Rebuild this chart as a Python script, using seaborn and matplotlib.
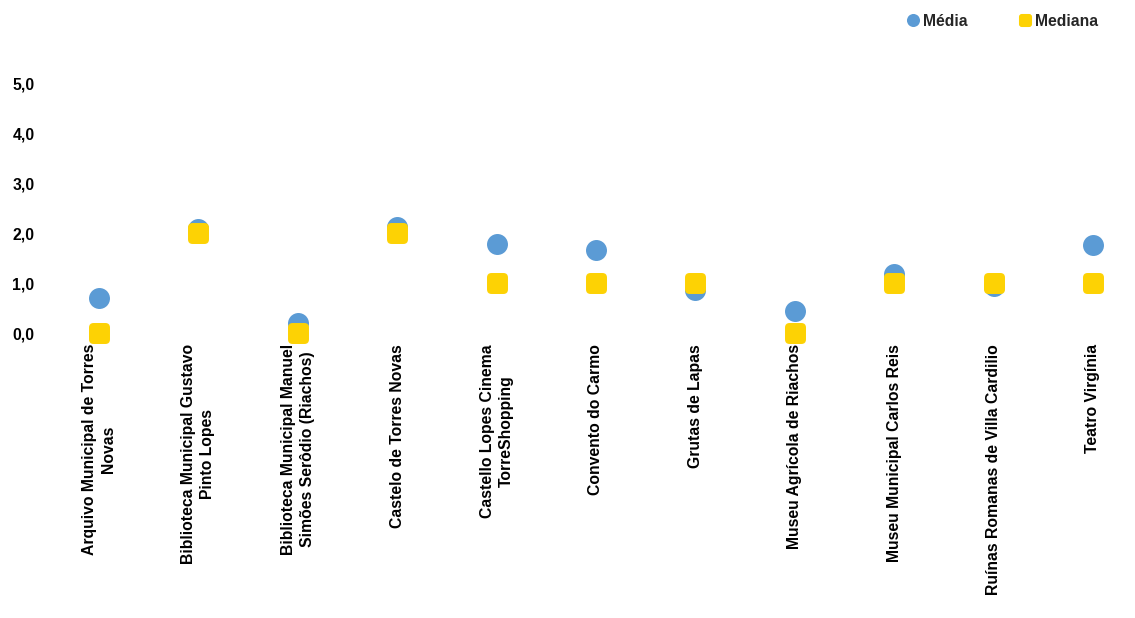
import matplotlib
matplotlib.use("Agg")
import matplotlib.pyplot as plt
from matplotlib.lines import Line2D
from matplotlib.patches import BoxStyle
from matplotlib.markers import MarkerStyle
import seaborn as sns
import pandas as pd

# Values per attraction
categorias = [
    "Arquivo Municipal de Torres\nNovas",
    "Biblioteca Municipal Gustavo\nPinto Lopes",
    "Biblioteca Municipal Manuel\nSimões Serôdio (Riachos)",
    "Castelo de Torres Novas",
    "Castello Lopes Cinema\nTorreShopping",
    "Convento do Carmo",
    "Grutas de Lapas",
    "Museu Agrícola de Riachos",
    "Museu Municipal Carlos Reis",
    "Ruínas Romanas de Villa Cardilio",
    "Teatro Virgínia",
]
media = [0.70, 2.08, 0.21, 2.12, 1.79, 1.66, 0.87, 0.45, 1.19, 0.95, 1.77]
mediana = [0, 2, 0, 2, 1, 1, 1, 0, 1, 1, 1]
y_ticks = [0, 1, 2, 3, 4, 5]
y_labels = ["0,0", "1,0", "2,0", "3,0", "4,0", "5,0"]
series_names = ["Média", "Mediana"]

AZUL = "#5B9BD5"
AMARELO = "#FDD204"
FONT = "Liberation Sans"
FS = 11.3

sns.set_theme(style="white")
plt.rcParams["font.family"] = [FONT, "DejaVu Sans"]
plt.rcParams["font.weight"] = "bold"

# rounded square marker
rounded = BoxStyle.Round(pad=0, rounding_size=0.22)(-0.5, -0.5, 1.0, 1.0, 1.0)
square_marker = MarkerStyle(rounded)

df = pd.DataFrame({"categoria": categorias, "media": media, "mediana": mediana})

W, H = 1135, 618
fig = plt.figure(figsize=(W / 100, H / 100), dpi=100)
ax_left, ax_right = 40, 1135
y0_px, y5_px = 333, 84
ax = fig.add_axes([ax_left / W, (H - y0_px) / H, (ax_right - ax_left) / W, (y0_px - y5_px) / H])

sns.scatterplot(data=df, x="categoria", y="media", ax=ax, s=228, color=AZUL,
                marker="o", linewidth=0, clip_on=False, zorder=3, legend=False)
sns.scatterplot(data=df, x="categoria", y="mediana", ax=ax, s=228, color=AMARELO,
                marker=square_marker, linewidth=0, clip_on=False, zorder=4, legend=False)

# x positions: category 0 at px 99, spacing ~99.4 px
step = 99.4
ax.set_xlim((ax_left - 99) / step, (ax_right - 99) / step)
ax.set_ylim(0, 5)
ax.set_yticks(y_ticks)
ax.set_yticklabels(y_labels, fontsize=FS, fontweight="bold", color="black")
ax.set_xticks(range(len(categorias)))
ax.set_xticklabels(categorias, rotation=90, fontsize=FS, fontweight="bold",
                   color="black", ha="center", va="top", multialignment="center",
                   linespacing=1.34)
ax.tick_params(axis="x", length=0, pad=8)
ax.tick_params(axis="y", length=0, pad=4)
ax.set_xlabel("")
ax.set_ylabel("")
for sp in ax.spines.values():
    sp.set_visible(False)
ax.grid(False)

handles = [
    Line2D([], [], linestyle="none", marker="o", markersize=9.4,
           markerfacecolor=AZUL, markeredgewidth=0),
    Line2D([], [], linestyle="none", marker=square_marker, markersize=9.4,
           markerfacecolor=AMARELO, markeredgewidth=0),
]
fig.legend(handles, series_names, loc="center left",
           bbox_to_anchor=(907 / W, 1 - 21 / H), ncol=2, frameon=False,
           prop={"family": FONT, "weight": "bold", "size": FS},
           handlelength=0.8, handletextpad=0.25, columnspacing=3.2,
           borderpad=0, borderaxespad=0)

fig.savefig("out.png", dpi=100, facecolor="white")
